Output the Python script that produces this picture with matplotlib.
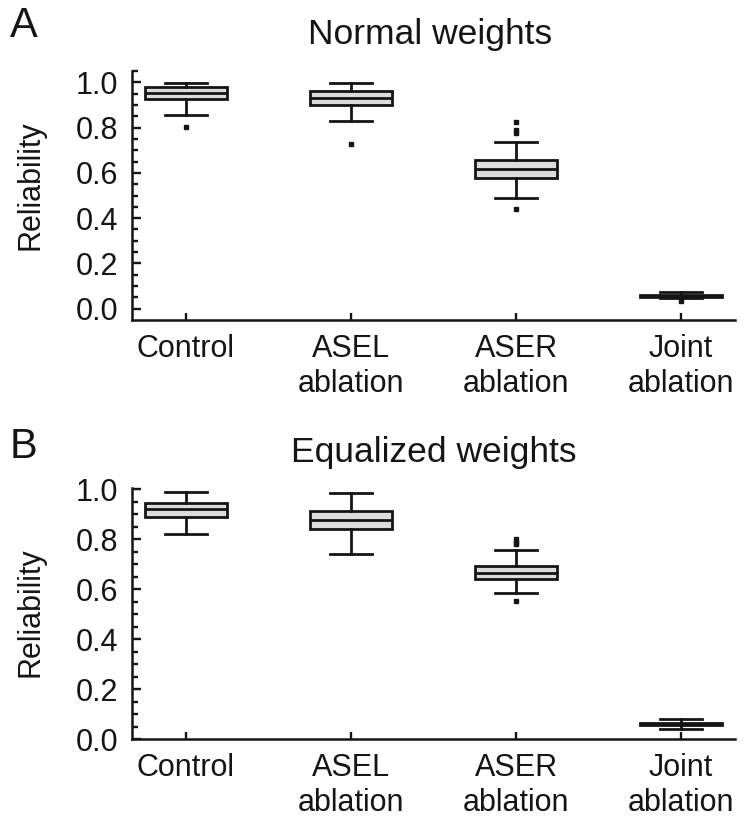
import matplotlib
matplotlib.use("Agg")
import matplotlib.pyplot as plt
import numpy as np
from matplotlib.ticker import FixedLocator

plt.rcParams['font.family'] = ['Liberation Sans', 'DejaVu Sans']

categories = ["Control", "ASEL\nablation", "ASER\nablation", "Joint\nablation"]

# Panel A: Normal weights
a_whislo = [0.856, 0.831, 0.489, 0.047]
a_q1     = [0.925, 0.899, 0.577, 0.051]
a_med    = [0.951, 0.932, 0.617, 0.056]
a_q3     = [0.981, 0.963, 0.655, 0.061]
a_whishi = [0.996, 0.998, 0.736, 0.072]
a_fliers = [[0.802], [0.728], [0.826, 0.790, 0.777, 0.440], [0.035]]

# Panel B: Equalized weights
b_whislo = [0.820, 0.742, 0.585, 0.040]
b_q1     = [0.890, 0.840, 0.641, 0.0555]
b_med    = [0.920, 0.877, 0.666, 0.060]
b_q3     = [0.944, 0.913, 0.694, 0.0645]
b_whishi = [0.990, 0.986, 0.757, 0.081]
b_fliers = [[], [], [0.800, 0.790, 0.780, 0.554], []]

titles = ["Normal weights", "Equalized weights"]
letters = ["A", "B"]

W, H = 750, 826
fig = plt.figure(figsize=(W / 100, H / 100), dpi=100)

def px_axes(left, top, right, bottom):
    return fig.add_axes([left / W, 1 - bottom / H, (right - left) / W, (bottom - top) / H])

axA = px_axes(132, 71, 735, 320)
axB = px_axes(132, 488, 735, 739.3)

def make_stats(wl, q1, med, q3, wh, fl):
    out = []
    for i in range(len(wl)):
        out.append(dict(whislo=wl[i], q1=q1[i], med=med[i], q3=q3[i], whishi=wh[i],
                        fliers=fl[i], label=categories[i]))
    return out

lw = 2.0
ink = '#151515'
for ax, stats, ylim in [
    (axA, make_stats(a_whislo, a_q1, a_med, a_q3, a_whishi, a_fliers), (-0.05, 1.05)),
    (axB, make_stats(b_whislo, b_q1, b_med, b_q3, b_whishi, b_fliers), (0.0, 1.005)),
]:
    ax.bxp(stats, positions=[1, 2, 3, 4], widths=0.5, capwidths=0.25,
           patch_artist=True,
           boxprops=dict(facecolor='#dcdcdc', edgecolor=ink, linewidth=lw),
           medianprops=dict(color=ink, linewidth=lw),
           whiskerprops=dict(color=ink, linewidth=lw),
           capprops=dict(color=ink, linewidth=lw),
           flierprops=dict(marker='s', markersize=3.2, markerfacecolor=ink,
                           markeredgecolor=ink, linestyle='none'))
    ax.set_xlim(0.673, 4.327)
    ax.set_ylim(*ylim)
    ax.spines['top'].set_visible(False)
    ax.spines['right'].set_visible(False)
    for s in ('left', 'bottom'):
        ax.spines[s].set_linewidth(1.8)
        ax.spines[s].set_color(ink)
    ax.set_yticks([0.0, 0.2, 0.4, 0.6, 0.8, 1.0])
    ax.set_yticklabels(["0.0", "0.2", "0.4", "0.6", "0.8", "1.0"])
    minor = [t for t in np.arange(0, ylim[1] + 0.001, 0.05)]
    ax.yaxis.set_minor_locator(FixedLocator(minor))
    ax.set_xticks([1, 2, 3, 4])
    ax.set_xticklabels(categories, linespacing=1.22)
    ax.tick_params(axis='y', which='major', direction='in', length=6.5, width=1.7,
                   pad=10, labelsize=22, colors=ink)
    ax.tick_params(axis='y', which='minor', direction='in', length=4.3, width=1.7,
                   colors=ink)
    ax.tick_params(axis='x', which='major', direction='in', length=5, width=1.7,
                   pad=10, labelsize=22, colors=ink)
    ax.tick_params(axis='x', which='minor', bottom=False)
    ax.set_ylabel("Reliability", fontsize=22, color=ink)

axA.yaxis.set_label_coords((46 - 132) / 603, (320 - 185) / 249)
axB.yaxis.set_label_coords((46 - 132) / 603, (739.3 - 611.7) / 251.3)

fig.text(430 / W, 1 - 44 / H, titles[0], fontsize=25.5, ha='center', va='baseline', color=ink)
fig.text(434 / W, 1 - 461.7 / H, titles[1], fontsize=25.5, ha='center', va='baseline', color=ink)
fig.text(10 / W, 1 - 37 / H, letters[0], fontsize=30, ha='left', va='baseline', color=ink)
fig.text(10 / W, 1 - 458 / H, letters[1], fontsize=30, ha='left', va='baseline', color=ink)

fig.savefig("out.png", dpi=100)
